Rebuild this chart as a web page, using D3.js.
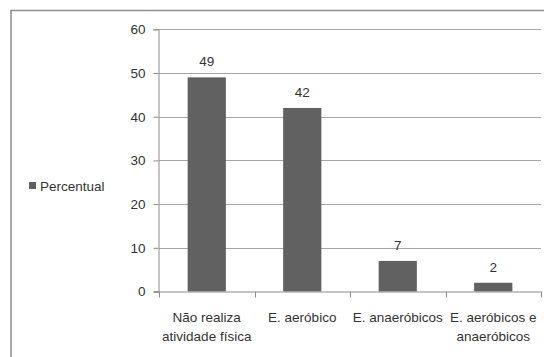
<!DOCTYPE html>
<html>
<head>
<meta charset="utf-8">
<script src="https://cdn.jsdelivr.net/npm/d3@7"></script>
<style>
  html, body { margin: 0; padding: 0; background: #fff; }
  svg text { font-family: "Liberation Sans", Arial, sans-serif; fill: #333; }
</style>
</head>
<body>
<svg id="chart" width="544" height="357"></svg>
<script>
// Share of respondents by type of physical activity
const categories = ["Não realiza|atividade física", "E. aeróbico", "E. anaeróbicos", "E. aeróbicos e|anaeróbicos"];
const percentual = [49, 42, 7, 2];
const yTicks = [0, 10, 20, 30, 40, 50, 60];
const seriesName = "Percentual";

const svg = d3.select("#chart");
const plot = { left: 159, right: 541, top: 29.3, bottom: 291.5 };

// Outer frame of the chart area
svg.append("rect")
  .attr("x", 11).attr("y", 10.5)
  .attr("width", 560).attr("height", 400)
  .attr("fill", "none").attr("stroke", "#8c8c8c").attr("stroke-width", 1.5);

const x = d3.scaleBand().domain(categories).range([plot.left, plot.right]).paddingInner(0.6).paddingOuter(0.3);
const xBand = d3.scaleBand().domain(categories).range([plot.left, plot.right]);
const y = d3.scaleLinear().domain([0, 60]).range([plot.bottom, plot.top]);

// Horizontal gridlines
svg.append("g").selectAll("line").data(yTicks.filter(d => d > 0)).join("line")
  .attr("x1", plot.left).attr("x2", plot.right)
  .attr("y1", d => Math.round(y(d)) + 0.5).attr("y2", d => Math.round(y(d)) + 0.5)
  .attr("stroke", "#a6a6a6").attr("stroke-width", 1);

// Y axis
const yAxis = svg.append("g").attr("transform", `translate(${plot.left - 0.5},0)`)
  .call(d3.axisLeft(y).tickValues(yTicks).tickSize(5).tickPadding(8));
yAxis.select(".domain").attr("stroke", "#8c8c8c");
yAxis.selectAll(".tick line").attr("stroke", "#8c8c8c");
yAxis.selectAll(".tick text").attr("font-size", 13.5).attr("fill", "#333")
  .attr("font-family", "Liberation Sans, Arial, sans-serif");

// Bars
svg.append("g").selectAll("rect").data(percentual).join("rect")
  .attr("x", (d, i) => x(categories[i]))
  .attr("width", x.bandwidth())
  .attr("y", d => y(d))
  .attr("height", d => y(0) - y(d))
  .attr("fill", "#616161");

// Value labels above bars
svg.append("g").selectAll("text").data(percentual).join("text")
  .attr("x", (d, i) => x(categories[i]) + x.bandwidth() / 2)
  .attr("y", d => y(d) - 11)
  .attr("text-anchor", "middle")
  .attr("font-size", 13.5)
  .text(d => d);

// X axis line and category separators
const xg = svg.append("g");
xg.append("line")
  .attr("x1", plot.left - 5).attr("x2", plot.right)
  .attr("y1", plot.bottom + 0.5).attr("y2", plot.bottom + 0.5)
  .attr("stroke", "#8c8c8c");
const seps = categories.map(c => xBand(c)).concat([plot.right]);
xg.selectAll("line.sep").data(seps).join("line").attr("class", "sep")
  .attr("x1", d => Math.round(d) + 0.5).attr("x2", d => Math.round(d) + 0.5)
  .attr("y1", plot.bottom).attr("y2", plot.bottom + 6)
  .attr("stroke", "#8c8c8c");

// Category labels (split over two lines where needed)
const lbl = xg.selectAll("text.cat").data(categories).join("text").attr("class", "cat")
  .attr("text-anchor", "middle")
  .attr("font-size", 13.5);
lbl.each(function (c) {
  const cx = xBand(c) + xBand.bandwidth() / 2;
  c.split("|").forEach((part, k) => {
    d3.select(this).append("tspan")
      .attr("x", cx).attr("y", 322 + k * 19)
      .text(part);
  });
});

// Legend
const lg = svg.append("g");
lg.append("rect").attr("x", 29).attr("y", 182).attr("width", 7).attr("height", 7).attr("fill", "#616161");
lg.append("text").attr("x", 40).attr("y", 191).attr("font-size", 13.5).text(seriesName);
</script>
</body>
</html>
